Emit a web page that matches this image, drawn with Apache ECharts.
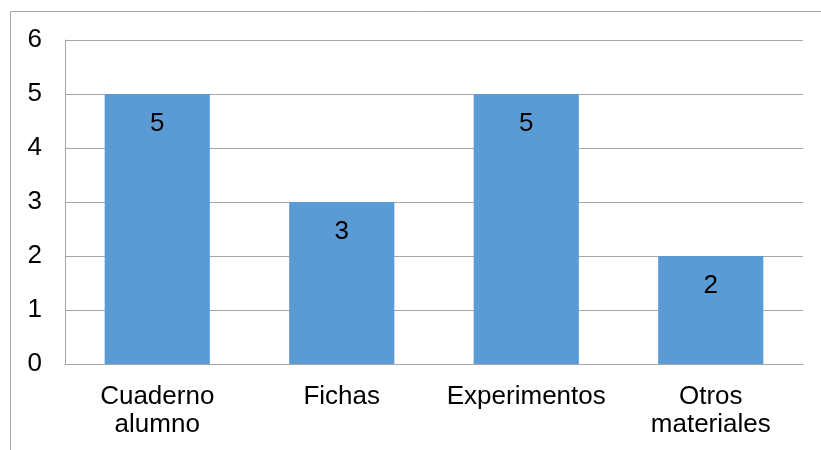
<!DOCTYPE html>
<html>
<head>
<meta charset="utf-8">
<script src="https://cdn.jsdelivr.net/npm/echarts@6/dist/echarts.min.js"></script>
<style>
  html, body { margin: 0; padding: 0; background: #ffffff; }
  #chart { width: 821px; height: 450px; }
</style>
</head>
<body>
<div id="chart"></div>
<script>
// Materiales utilizados
const categories = ['Cuaderno\nalumno', 'Fichas', 'Experimentos', 'Otros\nmateriales'];
const values = [5, 3, 5, 2];
const yTicks = { min: 0, max: 6, interval: 1 };

const FONT = '"Liberation Sans", Arial, sans-serif';
const chart = echarts.init(document.getElementById('chart'), null, { renderer: 'canvas' });

chart.setOption({
  animation: false,
  backgroundColor: '#ffffff',
  graphic: [{
    type: 'rect',
    shape: { x: 10.5, y: 11.5, width: 1000, height: 1000 },
    style: { fill: 'none', stroke: '#a6a6a6', lineWidth: 1 },
    silent: true
  }],
  grid: { left: 65, right: 18, top: 40, bottom: 86, containLabel: false },
  xAxis: {
    type: 'category',
    data: categories,
    axisLine: { show: true, lineStyle: { color: '#a6a6a6', width: 1 } },
    axisTick: { show: false },
    axisLabel: {
      color: '#000000',
      fontFamily: FONT,
      fontSize: 26,
      lineHeight: 28,
      margin: 19,
      interval: 0
    }
  },
  yAxis: {
    type: 'value',
    min: yTicks.min,
    max: yTicks.max,
    interval: yTicks.interval,
    axisLine: { show: true, lineStyle: { color: '#a6a6a6', width: 1 } },
    axisTick: { show: false },
    splitLine: { show: true, lineStyle: { color: '#a6a6a6', width: 1 } },
    axisLabel: {
      color: '#000000',
      fontFamily: FONT,
      fontSize: 26,
      margin: 23
    }
  },
  series: [{
    type: 'bar',
    data: values,
    barWidth: '57%',
    itemStyle: { color: '#5b9bd5' },
    label: {
      show: true,
      position: 'insideTop',
      distance: 17,
      color: '#000000',
      fontFamily: FONT,
      fontSize: 26
    }
  }]
});
</script>
</body>
</html>
